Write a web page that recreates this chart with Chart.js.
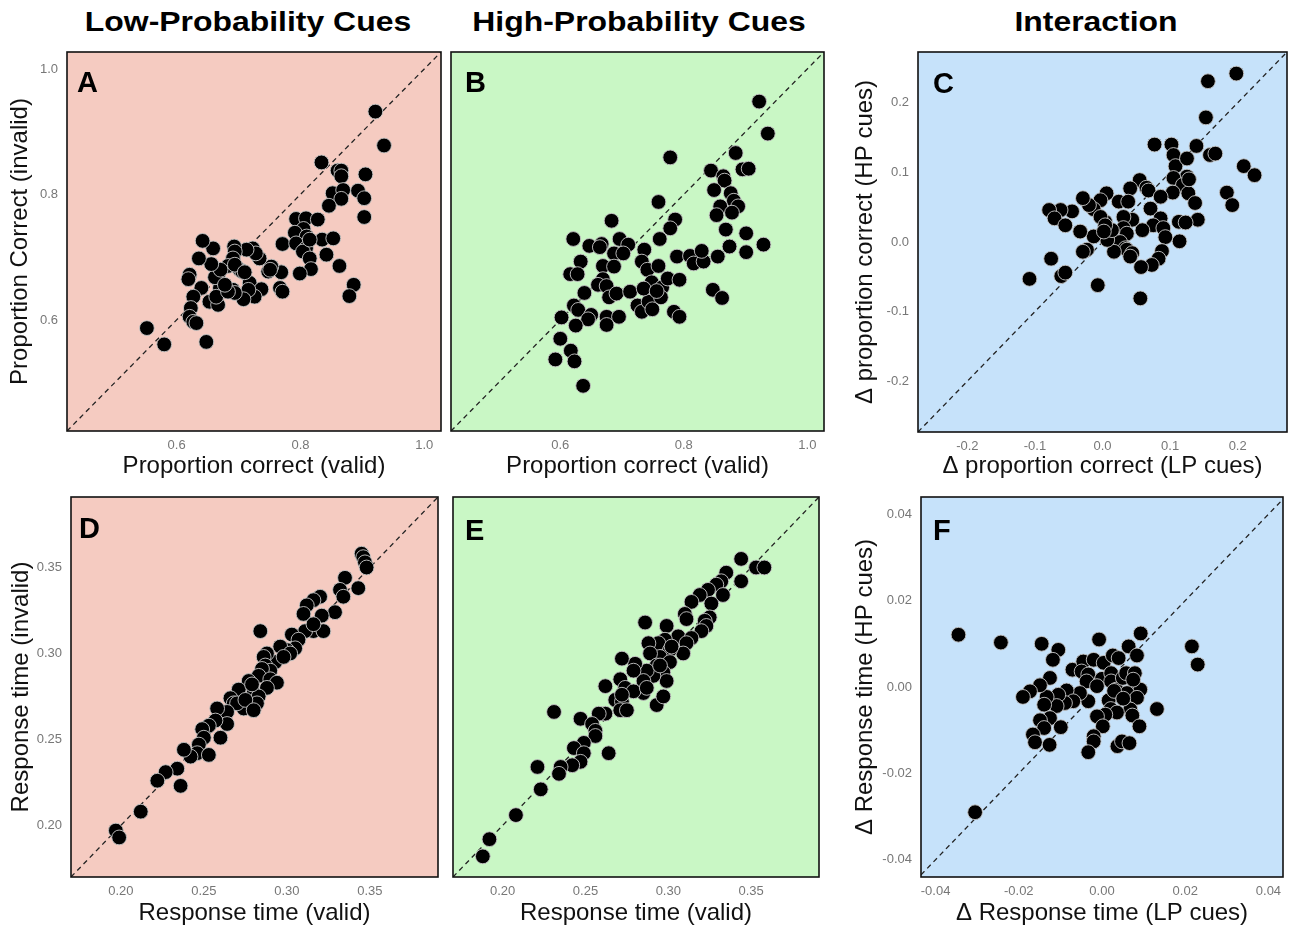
<!DOCTYPE html>
<html>
<head>
<meta charset="utf-8">
<script src="https://cdn.jsdelivr.net/npm/chart.js@4.4.1/dist/chart.umd.min.js"></script>
<style>
    body { margin: 0; background: #fff; width: 1295px; height: 929px; position: relative; overflow: hidden; font-family: 'Liberation Sans', Arial, sans-serif; }
    canvas { position: absolute; }
    .col { position: absolute; top: 8px; font-size: 28px; line-height: 28px; font-weight: bold; color: #000; white-space: nowrap; transform: translateX(-50%) scaleX(1.14); }
    .tag { position: absolute; font-size: 29px; line-height: 29px; font-weight: bold; color: #000; }
</style>
</head>
<body>
<div class="col" style="left:248px">Low-Probability Cues</div>
<div class="col" style="left:639px">High-Probability Cues</div>
<div class="col" style="left:1096px">Interaction</div>

<script>
// ---- data ----
// A: low-probability cues, proportion correct
const lpCorrectValid = [0.921,0.935,0.834,0.860,0.866,0.905,0.866,0.852,0.869,0.866,
    0.893,0.903,0.846,0.903,0.793,0.809,0.828,0.805,0.791,0.810,
    0.835,0.853,0.771,0.793,0.809,0.804,0.842,0.815,0.817,0.799,
    0.863,0.886,0.879,0.769,0.767,0.771,0.753,0.748,0.734,0.723,
    0.728,0.713,0.718,0.737,0.726,0.716,0.708,0.702,0.706,0.693,
    0.694,0.691,0.683,0.694,0.691,0.694,0.674,0.670,0.667,0.662,
    0.671,0.656,0.659,0.642,0.636,0.621,0.619,0.640,0.627,0.653,
    0.667,0.664,0.623,0.621,0.627,0.632,0.648,0.552,0.580,0.683,
    0.678,0.751,0.815,0.710];
const lpCorrectInvalid = [0.932,0.878,0.851,0.838,0.838,0.832,0.829,0.802,0.807,0.793,
    0.806,0.794,0.782,0.764,0.761,0.762,0.760,0.745,0.739,0.733,
    0.728,0.730,0.721,0.722,0.714,0.709,0.704,0.698,0.681,0.674,
    0.686,0.656,0.638,0.676,0.651,0.645,0.685,0.677,0.698,0.714,
    0.706,0.712,0.659,0.649,0.637,0.648,0.633,0.680,0.677,0.717,
    0.709,0.698,0.686,0.688,0.648,0.643,0.653,0.651,0.668,0.668,
    0.680,0.689,0.714,0.726,0.698,0.672,0.665,0.651,0.637,0.629,
    0.624,0.637,0.619,0.605,0.597,0.595,0.565,0.587,0.561,0.645,
    0.656,0.680,0.728,0.676];

// B: high-probability cues, proportion correct
const hpCorrectValid = [0.922,0.936,0.778,0.884,0.895,0.905,0.844,0.864,0.866,0.849,
    0.876,0.881,0.888,0.859,0.878,0.853,0.868,0.901,0.929,0.874,
    0.901,0.855,0.847,0.862,0.759,0.786,0.778,0.761,0.683,0.621,
    0.647,0.667,0.664,0.696,0.710,0.687,0.702,0.736,0.732,0.741,
    0.759,0.669,0.687,0.633,0.616,0.628,0.669,0.661,0.675,0.679,
    0.691,0.639,0.622,0.629,0.650,0.645,0.602,0.625,0.675,0.675,
    0.695,0.713,0.725,0.732,0.743,0.749,0.748,0.765,0.763,0.774,
    0.784,0.793,0.793,0.789,0.810,0.816,0.832,0.829,0.600,0.617,
    0.623,0.592,0.637,0.735,0.756];
const hpCorrectInvalid = [0.948,0.897,0.859,0.866,0.840,0.841,0.838,0.829,0.822,0.807,
    0.802,0.790,0.781,0.781,0.771,0.767,0.744,0.738,0.720,0.717,
    0.708,0.701,0.648,0.635,0.788,0.760,0.746,0.729,0.758,0.729,
    0.718,0.721,0.716,0.729,0.720,0.706,0.706,0.712,0.693,0.680,
    0.686,0.686,0.685,0.693,0.673,0.673,0.665,0.656,0.654,0.636,
    0.642,0.643,0.623,0.616,0.608,0.601,0.604,0.591,0.605,0.592,
    0.605,0.645,0.623,0.613,0.629,0.617,0.660,0.652,0.636,0.666,
    0.613,0.605,0.664,0.701,0.702,0.690,0.693,0.710,0.570,0.551,
    0.534,0.537,0.495,0.650,0.646];

// C: interaction, delta proportion correct
const dCorrectLP = [0.198,0.156,0.153,0.159,0.167,0.139,0.102,0.077,0.209,0.225,
    0.105,0.108,0.125,0.125,0.105,0.119,0.127,0.104,0.137,0.141,
    0.113,0.123,0.114,0.184,0.192,0.055,0.041,0.065,0.068,0.086,
    0.071,0.086,0.075,0.090,0.093,0.088,0.083,0.073,0.057,0.056,
    0.059,0.044,0.031,0.024,0.038,0.031,0.036,0.026,0.034,0.036,
    0.044,0.041,0.017,0.007,0.014,0.004,0.006,-0.003,-0.013,-0.020,
    -0.029,-0.003,0.004,-0.013,-0.033,-0.023,-0.029,-0.045,-0.062,-0.079,
    -0.071,-0.055,-0.076,-0.061,-0.055,-0.108,-0.007,0.128,0.002];
const dCorrectHP = [0.242,0.231,0.179,0.125,0.127,0.138,0.140,0.140,0.109,0.096,
    0.125,0.109,0.120,0.094,0.092,0.082,0.070,0.071,0.056,0.032,
    0.029,0.028,0.001,0.071,0.053,0.089,0.077,0.078,0.074,0.065,
    0.048,0.034,0.024,0.020,0.007,-0.013,-0.024,-0.033,-0.036,-0.081,
    0.017,0.032,0.036,0.058,0.058,0.020,0.012,0.000,-0.009,-0.011,
    -0.016,-0.021,-0.014,0.003,0.017,0.029,0.070,0.060,0.047,0.053,
    0.063,0.036,0.024,0.008,0.015,-0.011,-0.014,0.044,0.046,0.046,
    0.034,0.024,-0.024,-0.049,-0.044,-0.053,-0.062,0.090,0.015];

// D: low-probability cues, response time
const lpRtValid = [0.345,0.346,0.347,0.348,0.335,0.343,0.332,0.334,0.329,0.320,
    0.316,0.312,0.310,0.321,0.316,0.322,0.311,0.284,0.303,0.307,
    0.305,0.300,0.296,0.302,0.293,0.288,0.286,0.287,0.290,0.285,
    0.283,0.290,0.294,0.288,0.277,0.271,0.266,0.280,0.283,0.282,
    0.274,0.268,0.270,0.264,0.258,0.264,0.257,0.253,0.249,0.260,
    0.250,0.247,0.246,0.242,0.238,0.253,0.234,0.227,0.222,0.236,
    0.212,0.197,0.199,0.275,0.279,0.298,0.280,0.316];
const lpRtInvalid = [0.358,0.356,0.353,0.350,0.344,0.338,0.337,0.333,0.324,0.333,
    0.331,0.328,0.323,0.322,0.313,0.313,0.313,0.313,0.311,0.308,
    0.303,0.302,0.304,0.300,0.295,0.300,0.298,0.293,0.290,0.291,
    0.287,0.285,0.283,0.280,0.284,0.279,0.274,0.277,0.275,0.271,
    0.268,0.271,0.271,0.266,0.268,0.259,0.261,0.258,0.256,0.251,
    0.251,0.247,0.242,0.240,0.244,0.241,0.233,0.231,0.226,0.223,
    0.208,0.197,0.193,0.273,0.282,0.298,0.267,0.317];

// E: high-probability cues, response time
const hpRtValid = [0.344,0.353,0.358,0.344,0.335,0.332,0.329,0.333,0.324,0.319,
    0.314,0.326,0.310,0.311,0.325,0.322,0.323,0.320,0.286,0.299,
    0.306,0.314,0.311,0.309,0.298,0.294,0.288,0.301,0.295,0.289,
    0.301,0.293,0.297,0.299,0.291,0.287,0.285,0.285,0.280,0.279,
    0.272,0.271,0.274,0.279,0.262,0.268,0.272,0.271,0.275,0.293,
    0.297,0.262,0.258,0.231,0.247,0.254,0.256,0.256,0.249,0.243,
    0.249,0.247,0.242,0.264,0.235,0.234,0.221,0.223,0.208,0.192,
    0.188,0.295,0.302,0.287,0.272];
const hpRtInvalid = [0.355,0.350,0.350,0.342,0.347,0.342,0.340,0.334,0.337,0.334,
    0.330,0.329,0.323,0.320,0.321,0.319,0.316,0.313,0.318,0.316,
    0.310,0.309,0.306,0.300,0.308,0.306,0.306,0.302,0.298,0.300,
    0.295,0.293,0.289,0.284,0.287,0.290,0.284,0.277,0.294,0.290,
    0.297,0.285,0.280,0.278,0.281,0.273,0.272,0.267,0.267,0.270,
    0.275,0.265,0.265,0.266,0.262,0.259,0.255,0.252,0.248,0.245,
    0.242,0.237,0.235,0.242,0.234,0.230,0.234,0.221,0.206,0.192,
    0.182,0.293,0.304,0.280,0.276];

// F: interaction, delta response time
const dRtLP = [-0.0345,-0.0243,-0.0145,-0.0105,-0.0118,-0.0007,0.0093,0.0064,0.0084,0.0216,
    0.0230,-0.0305,-0.0071,-0.0045,-0.0020,0.0004,0.0026,0.0040,-0.0049,-0.0033,
    -0.0037,0.0000,-0.0012,0.0022,0.0022,0.0034,0.0050,0.0058,0.0079,0.0080,
    0.0092,0.0060,0.0084,0.0068,0.0073,0.0090,0.0132,0.0016,0.0021,0.0036,
    0.0008,-0.0012,0.0002,-0.0020,-0.0020,-0.0033,0.0037,0.0048,0.0066,-0.0033,
    -0.0053,-0.0085,-0.0069,-0.0089,-0.0105,-0.0109,-0.0133,-0.0139,-0.0125,-0.0149,
    -0.0173,-0.0190,-0.0125,-0.0149,-0.0139,-0.0099,-0.0166,-0.0161,-0.0126,0.0029,
    0.0051,0.0075];
const dRtHP = [0.0121,0.0103,0.0100,0.0086,0.0063,0.0110,0.0124,0.0094,0.0073,0.0094,
    0.0052,-0.0290,0.0040,0.0059,0.0063,0.0056,0.0073,0.0067,0.0036,0.0029,
    0.0013,0.0019,0.0002,0.0032,0.0013,-0.0006,0.0021,0.0032,0.0032,0.0000,
    -0.0006,-0.0014,-0.0025,-0.0052,-0.0066,-0.0091,-0.0051,-0.0031,-0.0051,-0.0059,
    -0.0064,-0.0068,-0.0091,-0.0114,-0.0126,-0.0151,-0.0137,-0.0126,-0.0130,-0.0033,
    -0.0014,-0.0008,-0.0033,-0.0037,-0.0018,-0.0044,-0.0023,-0.0041,0.0021,0.0004,
    -0.0010,-0.0023,-0.0072,-0.0077,-0.0095,-0.0093,-0.0110,-0.0128,-0.0134,-0.0009,
    -0.0027,0.0017];

// tick labels and axis limits
const accTicks = [0.6, 0.8, 1.0];
const dAccTicks = [-0.2, -0.1, 0.0, 0.1, 0.2];
const rtTicks = [0.20, 0.25, 0.30, 0.35];
const dRtTicks = [-0.04, -0.02, 0.00, 0.02, 0.04];
const accRange = [0.423, 1.027];
const dAccRange = [-0.273, 0.273];
const rtRange = [0.170, 0.391];
const dRtRangeX = [-0.0435, 0.0435];
const dRtRangeY = [-0.044, 0.044];

const pink = 'rgb(245, 203, 193)';
const green = 'rgb(201, 247, 197)';
const blue = 'rgb(198, 226, 250)';

// panel layout: box = plot area [left, top, right, bottom] in page px
const panels = [
    {tag: 'A', xs: lpCorrectValid, ys: lpCorrectInvalid, xr: accRange, yr: accRange, xt: accTicks, yt: accTicks, dec: 1, bg: pink,
     box: [67, 52, 441, 431], yw: 67, xh: 52, yPad: 6, xTitle: 'Proportion correct (valid)', yTitle: 'Proportion Correct (invalid)', tagPos: [77, 68]},
    {tag: 'B', xs: hpCorrectValid, ys: hpCorrectInvalid, xr: accRange, yr: accRange, xt: accTicks, yt: null, dec: 1, bg: green,
     box: [451, 52, 824, 431], yw: 4, xh: 52, yPad: 0, xTitle: 'Proportion correct (valid)', yTitle: null, tagPos: [465, 68]},
    {tag: 'C', xs: dCorrectLP, ys: dCorrectHP, xr: dAccRange, yr: dAccRange, xt: dAccTicks, yt: dAccTicks, dec: 1, bg: blue,
     box: [918, 52, 1287, 432], yw: 70, xh: 51, yPad: 3, xTitle: 'Δ proportion correct (LP cues)', yTitle: 'Δ proportion correct (HP cues)', tagPos: [933, 69]},
    {tag: 'D', xs: lpRtValid, ys: lpRtInvalid, xr: rtRange, yr: rtRange, xt: rtTicks, yt: rtTicks, dec: 2, bg: pink,
     box: [71, 497, 438, 877], yw: 71, xh: 53, yPad: 7, xTitle: 'Response time (valid)', yTitle: 'Response time (invalid)', tagPos: [79, 514]},
    {tag: 'E', xs: hpRtValid, ys: hpRtInvalid, xr: rtRange, yr: rtRange, xt: rtTicks, yt: null, dec: 2, bg: green,
     box: [453, 497, 819, 877], yw: 4, xh: 53, yPad: 0, xTitle: 'Response time (valid)', yTitle: null, tagPos: [465, 516]},
    {tag: 'F', xs: dRtLP, ys: dRtHP, xr: dRtRangeX, yr: dRtRangeY, xt: dRtTicks, yt: dRtTicks, dec: 2, bg: blue,
     box: [921, 497, 1283, 877], yw: 73, xh: 53, yPad: 3, xTitle: 'Δ Response time (LP cues)', yTitle: 'Δ Response time (HP cues)', tagPos: [933, 516]}
];

Chart.defaults.font.family = "'Liberation Sans', Arial, sans-serif";

// fills the plot area and draws the frame
const framePlugin = {
    id: 'frame',
    beforeDraw(chart, args, opts) {
        const a = chart.chartArea, ctx = chart.ctx;
        ctx.save();
        ctx.fillStyle = opts.color;
        ctx.fillRect(a.left, a.top, a.right - a.left, a.bottom - a.top);
        ctx.restore();
    },
    afterDraw(chart) {
        const a = chart.chartArea, ctx = chart.ctx;
        ctx.save();
        ctx.strokeStyle = '#111';
        ctx.lineWidth = 1.6;
        ctx.strokeRect(a.left, a.top, a.right - a.left, a.bottom - a.top);
        ctx.restore();
    }
};

function makePanel(p) {
    const [L, T, R, B] = p.box;
    const w = p.yw + (R - L) + 4, h = 2 + (B - T) + p.xh;
    const cv = document.createElement('canvas');
    cv.width = w; cv.height = h;
    cv.style.left = (L - p.yw) + 'px';
    cv.style.top = (T - 2) + 'px';
    cv.style.width = w + 'px';
    cv.style.height = h + 'px';
    document.body.appendChild(cv);

    const tag = document.createElement('div');
    tag.className = 'tag';
    tag.textContent = p.tag;
    tag.style.left = p.tagPos[0] + 'px';
    tag.style.top = p.tagPos[1] + 'px';
    document.body.appendChild(tag);

    const pts = p.xs.map((x, i) => ({x: x, y: p.ys[i]}));
    const hasY = p.yt !== null;

    new Chart(cv, {
        type: 'scatter',
        data: {
            datasets: [
                {
                    data: pts,
                    pointBackgroundColor: '#000',
                    pointBorderColor: 'rgba(200,200,200,0.9)',
                    pointBorderWidth: 1,
                    pointRadius: 7.4,
                    order: 0
                },
                {
                    data: [{x: p.xr[0], y: p.xr[0]}, {x: p.xr[1], y: p.xr[1]}], // y = x
                    showLine: true,
                    borderColor: '#222',
                    borderWidth: 1.3,
                    borderDash: [5, 4],
                    pointRadius: 0,
                    order: 1
                }
            ]
        },
        options: {
            responsive: false,
            animation: false,
            devicePixelRatio: 1,
            layout: {autoPadding: false, padding: {left: 0, top: 2, right: 4, bottom: 0}},
            plugins: {
                legend: {display: false},
                tooltip: {enabled: false},
                frame: {color: p.bg}
            },
            scales: {
                x: {
                    type: 'linear',
                    min: p.xr[0],
                    max: p.xr[1],
                    grid: {display: false, drawTicks: false},
                    border: {display: false},
                    afterBuildTicks: s => { s.ticks = p.xt.map(v => ({value: v})); },
                    afterFit: s => { s.height = p.xh; s.paddingLeft = 0; s.paddingRight = 0; },
                    ticks: {
                        padding: 7, color: '#777', font: {size: 13},
                        maxRotation: 0, autoSkip: false,
                        callback: v => v.toFixed(p.dec)
                    },
                    title: {display: true, text: p.xTitle, color: '#111', font: {size: 24}, padding: {top: 0, bottom: 2}}
                },
                y: {
                    type: 'linear',
                    min: p.yr[0],
                    max: p.yr[1],
                    grid: {display: false, drawTicks: false},
                    border: {display: false},
                    afterBuildTicks: s => { s.ticks = (p.yt || []).map(v => ({value: v})); },
                    afterFit: s => { s.width = p.yw; s.paddingTop = 0; s.paddingBottom = 0; },
                    ticks: {
                        display: hasY,
                        padding: 9, color: '#777', font: {size: 13},
                        autoSkip: false,
                        callback: v => v.toFixed(p.dec)
                    },
                    title: {display: hasY, text: p.yTitle || '', color: '#111', font: {size: 24}, padding: {top: p.yPad, bottom: 0}}
                }
            }
        },
        plugins: [framePlugin]
    });
}

panels.forEach(makePanel);
</script>
</body>
</html>
